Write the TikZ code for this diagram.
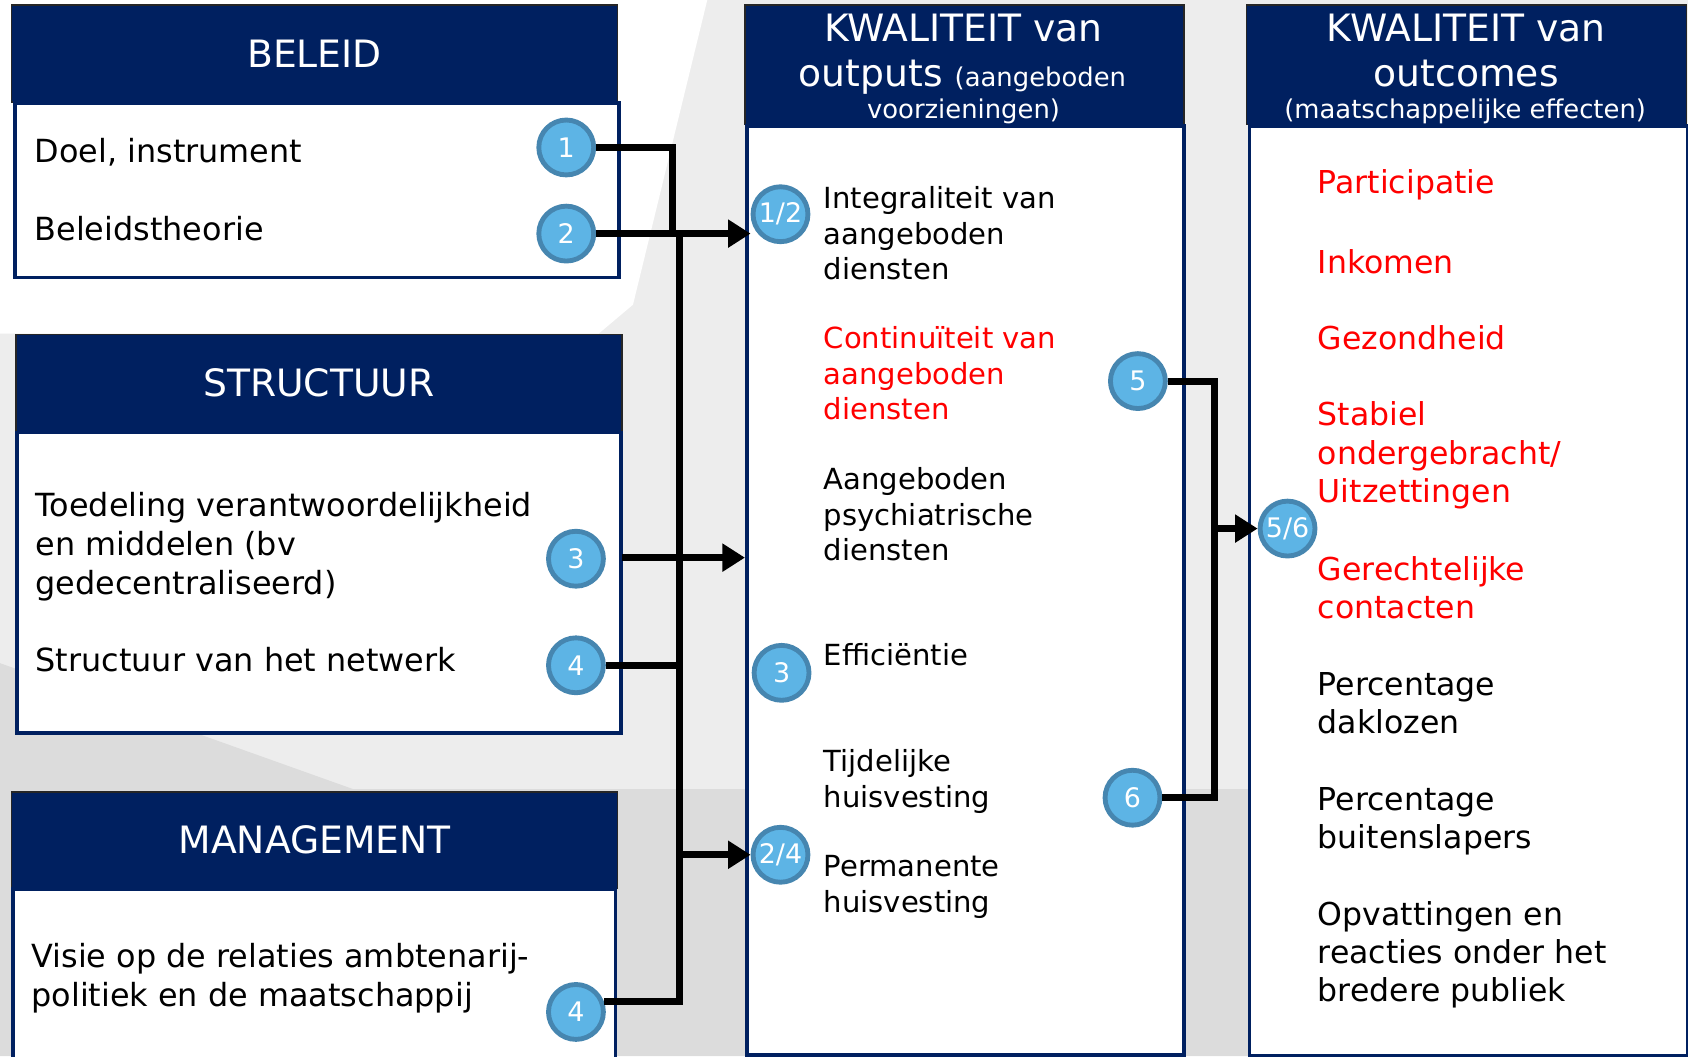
\documentclass[tikz,border=0pt]{standalone}
\usepackage{fontspec}
\setmainfont{DejaVu Sans}
\usetikzlibrary{arrows.meta, positioning}
\definecolor{navy}{HTML}{002060}
\definecolor{hdrline}{HTML}{262626}
\definecolor{badgefill}{HTML}{5DB4E5}
\definecolor{badgeline}{HTML}{4686B0}
\definecolor{bglight}{HTML}{EDEDED}
\definecolor{bgdark}{HTML}{DCDCDC}
\definecolor{hotred}{HTML}{FF0000}
\tikzstyle{header} = [rectangle, anchor=north west, inner sep=0pt, fill=navy, draw=hdrline, line width=1.5pt, text=white, font=\fontsize{35}{41}\selectfont]
\tikzstyle{panel} = [rectangle, anchor=north west, inner sep=0pt, fill=white, draw=navy, line width=3.5pt]
\tikzstyle{badge} = [circle, fill=badgefill, draw=badgeline, line width=4.5pt, minimum size=51pt, inner sep=0pt, text=white, font=\fontsize{25}{25}\selectfont]
\tikzstyle{conn} = [line width=6.5pt, black]
\tikzstyle{arrowline} = [conn, -{Triangle[length=21pt,width=25pt]}]
\tikzstyle{lefttext} = [anchor=west, align=left, inner sep=0pt, font=\fontsize{29.6}{36}\selectfont]
\tikzstyle{midtext} = [anchor=west, align=left, inner sep=0pt, font=\fontsize{27}{33}\selectfont]
\tikzstyle{righttext} = [anchor=west, align=left, inner sep=0pt, font=\fontsize{29.3}{35.5}\selectfont]
\tikzstyle{htitle} = [anchor=base, text=white, inner sep=0pt, font=\fontsize{35}{41}\selectfont]
\tikzstyle{hsub} = [anchor=base, text=white, inner sep=0pt, font=\fontsize{24}{24}\selectfont]

\begin{document}
\begin{tikzpicture}[x=1pt, y=-1pt]
\useasboundingbox (0,0) rectangle (1568,981);

% Background
\fill[bglight] (0,0) rectangle (1568,981);
\fill[white] (0,0) -- (657,0) -- (588,283) -- (556,310) -- (0,310) -- cycle;
\fill[bgdark] (0,616) -- (328,733) -- (1568,733) -- (1568,981) -- (0,981) -- cycle;

% Beleid
\node (beleid) [header, minimum width=563pt, minimum height=90pt] at (10,4) {BELEID};
\node (beleid-body) [panel, minimum width=561pt, minimum height=162pt] at (12,94) {};
\node (doel) [lefttext] at (32,141) {Doel, instrument};
\node (theorie) [lefttext] at (32,212) {Beleidstheorie};

% Structuur
\node (structuur) [header, minimum width=563pt, minimum height=90pt] at (14,310) {STRUCTUUR};
\node (structuur-body) [panel, minimum width=561pt, minimum height=279pt] at (14,400) {};
\node (toedeling) [lefttext] at (33,508) {Toedeling verantwoordelijkheid\\en middelen (bv\\gedecentraliseerd)};
\node (netwerk) [lefttext] at (33,613) {Structuur van het netwerk};

% Management
\node (management) [header, minimum width=563pt, minimum height=89pt] at (10,735) {MANAGEMENT};
\node (management-body) [panel, minimum width=560pt, minimum height=175pt] at (10,824) {};
\node (visie) [lefttext] at (29,909) {Visie op de relaties ambtenarij-\\politiek en de maatschappij};

% Kwaliteit van outputs
\node (outputs) [header, minimum width=408pt, minimum height=111pt] at (691,4) {};
\node (outputs-t1) [htitle] at (895,39) {KWALITEIT van};
\node (outputs-t2) [htitle] at (894,80) {outputs {\fontsize{24}{24}\selectfont (aangeboden}};
\node (outputs-t3) [hsub] at (895,110) {voorzieningen)};
\node (outputs-body) [panel, minimum width=406pt, minimum height=863pt] at (692,115) {};
\node (integraliteit) [midtext] at (765,217) {Integraliteit van\\aangeboden\\diensten};
\node (continuiteit) [midtext, text=hotred] at (765,347) {Continuïteit van\\aangeboden\\diensten};
\node (psychiatrisch) [midtext] at (765,478) {Aangeboden\\psychiatrische\\diensten};
\node (efficientie) [midtext] at (765,608) {Efficiëntie};
\node (tijdelijk) [midtext] at (765,726) {Tijdelijke\\huisvesting};
\node (permanent) [midtext] at (765,824) {Permanente\\huisvesting};

% Kwaliteit van outcomes
\node (outcomes) [header, minimum width=409pt, minimum height=111pt] at (1157,4) {};
\node (outcomes-t1) [htitle] at (1362,39) {KWALITEIT van};
\node (outcomes-t2) [htitle] at (1362,80) {outcomes};
\node (outcomes-t3) [hsub] at (1361,110) {(maatschappelijke effecten)};
\node (outcomes-body) [panel, minimum width=407pt, minimum height=864pt] at (1159,115) {};
\node (participatie) [righttext, text=hotred] at (1224,172) {Participatie};
\node (inkomen) [righttext, text=hotred] at (1224,243) {Inkomen};
\node (gezondheid) [righttext, text=hotred] at (1224,314) {Gezondheid};
\node (stabiel) [righttext, text=hotred] at (1224,423) {Stabiel\\ondergebracht/\\Uitzettingen};
\node (gerecht) [righttext, text=hotred] at (1224,546) {Gerechtelijke\\contacten};
\node (daklozen) [righttext] at (1224,653) {Percentage\\daklozen};
\node (buitenslapers) [righttext] at (1224,763) {Percentage\\buitenslapers};
\node (publiek) [righttext] at (1224,887) {Opvattingen en\\reacties onder het\\bredere publiek};

% Badges
\node (b1) [badge] at (526,137) {1};
\node (b2) [badge] at (526,217) {2};
\node (bs3) [badge] at (535,519) {3};
\node (bs4) [badge] at (535,618) {4};
\node (bm4) [badge] at (535,940) {4};
\node (b12) [badge] at (725,199) {1/2};
\node (be3) [badge] at (726,625) {3};
\node (b24) [badge] at (725,794) {2/4};
\node (b5) [badge] at (1057,354) {5};
\node (b6) [badge] at (1052,741) {6};
\node (b56) [badge] at (1196,491) {5/6};

% Connectors
\coordinate (j1) at (625,217);
\coordinate (bus) at (631,217);
\coordinate (s3start) at (578,518);
\coordinate (bus2) at (1128,354);
\draw[conn] (b1.east) -| (j1);
\draw[conn] (bm4.20) -| (bus);
\draw[conn] (bs4.east) -- (bs4.east -| bus);
\draw[arrowline] (b2.east) -- (b2.east -| b12.west);
\draw[arrowline] (bus |- b24) -- (b24.west);
\draw[arrowline] (s3start) -- (s3start -| outputs-body.west);
\draw[conn] (b5.east) -| (b6.east -| bus2) -- (b6.east);
\draw[arrowline] (bus2 |- b56) -- (b56.west);

\end{tikzpicture}
\end{document}
